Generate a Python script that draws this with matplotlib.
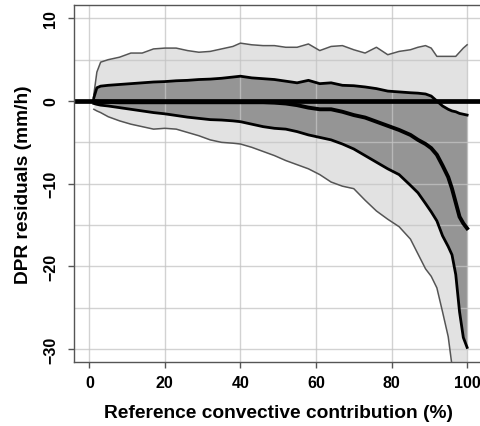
import matplotlib
matplotlib.use("Agg")
import matplotlib.pyplot as plt
from matplotlib.ticker import MultipleLocator

plt.rcParams['font.family'] = ['Liberation Sans', 'DejaVu Sans']

x = [1.2, 2, 3, 5, 8, 11, 14, 17, 20, 23, 26, 29, 32, 35, 38, 40, 43, 46, 49, 52,
     55, 58, 61, 64, 67, 70, 73, 76, 79, 82, 85, 87, 89, 90.5, 92, 93.5, 95, 96,
     97, 98, 99, 100]
upper_outer = [0.8, 3.5, 4.7, 5.0, 5.3, 5.8, 5.8, 6.3, 6.4, 6.4, 6.1, 5.9, 6.0, 6.3,
               6.6, 7.0, 6.8, 6.7, 6.7, 6.5, 6.5, 6.9, 6.1, 6.6, 6.7, 6.2, 5.8, 6.5,
               5.6, 6.0, 6.2, 6.5, 6.7, 6.4, 5.4, 5.4, 5.4, 5.4, 5.4, 5.9, 6.4, 6.8]
upper_inner = [0.4, 1.6, 1.8, 1.9, 2.0, 2.1, 2.2, 2.3, 2.35, 2.45, 2.5, 2.6, 2.65,
               2.75, 2.9, 3.0, 2.8, 2.7, 2.6, 2.4, 2.2, 2.5, 2.1, 2.2, 1.9, 1.85,
               1.7, 1.5, 1.2, 1.1, 1.0, 0.95, 0.85, 0.6, 0.0, -0.6, -1.0, -1.2,
               -1.3, -1.5, -1.6, -1.7]
median = [0.0, -0.05, -0.1, -0.1, -0.15, -0.15, -0.15, -0.15, -0.15, -0.15, -0.15,
          -0.15, -0.15, -0.15, -0.15, -0.15, -0.15, -0.15, -0.2, -0.3, -0.5, -0.8,
          -1.0, -1.0, -1.3, -1.7, -2.0, -2.5, -3.0, -3.5, -4.1, -4.7, -5.2, -5.7,
          -6.5, -7.8, -9.2, -10.6, -12.3, -14.0, -14.8, -15.4]
lower_inner = [-0.3, -0.4, -0.5, -0.6, -0.8, -1.0, -1.2, -1.4, -1.55, -1.75, -1.95,
               -2.1, -2.25, -2.3, -2.4, -2.5, -2.8, -3.1, -3.3, -3.4, -3.7, -4.1,
               -4.4, -4.7, -5.2, -5.8, -6.6, -7.4, -8.2, -8.9, -10.2, -11.1, -12.4,
               -13.4, -14.5, -16.3, -17.6, -18.6, -21.0, -25.5, -28.6, -29.8]
lower_outer = [-1.0, -1.2, -1.4, -1.9, -2.4, -2.8, -3.1, -3.4, -3.3, -3.4, -3.8,
               -4.2, -4.7, -5.0, -5.1, -5.2, -5.6, -6.1, -6.6, -7.2, -7.7, -8.2,
               -8.9, -9.8, -10.3, -10.6, -12.0, -13.3, -14.3, -15.2, -16.7, -18.5,
               -20.3, -21.2, -22.6, -25.5, -28.5, -32.0, -35.0, -38.0, -41.0, -44.0]

xticks = [0, 20, 40, 60, 80, 100]
yticks = [-30, -20, -10, 0, 10]

fig = plt.figure(figsize=(4.8, 4.27), dpi=100)
ax = fig.add_axes([0.1546, 0.1492, 0.850, 0.8365])
ax.set_xlim(-4, 104)
ax.set_ylim(-31.6, 11.6)

ax.fill_between(x, lower_outer, upper_outer, color='#e2e2e2', lw=0, zorder=1)
ax.fill_between(x, lower_inner, upper_inner, color='#959595', lw=0, zorder=2)

ax.set_xticks(xticks)
ax.set_yticks(yticks)
ax.yaxis.set_minor_locator(MultipleLocator(5))
ax.grid(True, which='major', color='#c4c4c4', lw=1.0, alpha=0.75, zorder=3)
ax.grid(True, which='minor', axis='y', color='#c4c4c4', lw=1.0, alpha=0.75, zorder=3)
ax.set_axisbelow(False)

ax.plot(x, upper_outer, color='#555555', lw=1.1, zorder=4)
ax.plot(x, lower_outer, color='#555555', lw=1.1, zorder=4)
ax.axhline(0, color='black', lw=3.4, zorder=5)
ax.plot(x, upper_inner, color='black', lw=2.0, zorder=6)
ax.plot(x, lower_inner, color='black', lw=2.0, zorder=6)
ax.plot(x, median, color='black', lw=2.8, zorder=6)

for s in ax.spines.values():
    s.set_color('#555555')
    s.set_linewidth(1.0)
    s.set_zorder(7)

ax.tick_params(axis='both', which='major', direction='out', length=4.5, width=1.0,
               color='#555555', labelsize=11.5)
ax.tick_params(axis='y', which='minor', length=0)
ax.tick_params(axis='x', pad=5)
ax.tick_params(axis='y', pad=7)
for lab in ax.get_yticklabels():
    lab.set_rotation(90)
    lab.set_va('center')
    lab.set_fontweight('bold')
for lab in ax.get_xticklabels():
    lab.set_fontweight('bold')

ax.set_xlabel('Reference convective contribution (%)', fontsize=13.8, fontweight='bold', labelpad=10)
ax.set_ylabel('DPR residuals (mm/h)', fontsize=13.8, fontweight='bold', labelpad=8)

fig.savefig('out.png', dpi=100)
